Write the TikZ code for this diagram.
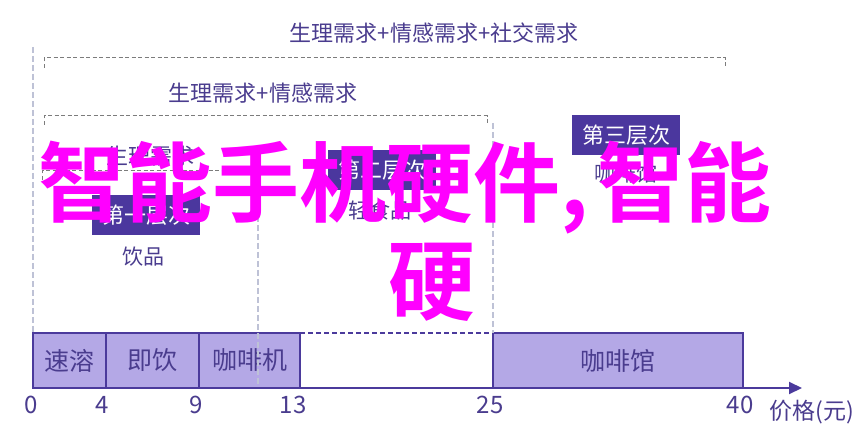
\documentclass[tikz,border=0pt]{standalone}
\usepackage{fontspec}
\setmainfont{Noto Sans CJK SC}[BoldFont={Noto Sans CJK SC Bold}]
\usepackage{xcolor}
\usetikzlibrary{positioning,arrows.meta}

\definecolor{inkpurple}{HTML}{4A3C8E}
\definecolor{barfill}{HTML}{B4A8E6}
\definecolor{baredge}{HTML}{4B3A9C}
\definecolor{levelfill}{HTML}{4B379E}
\definecolor{guidegray}{HTML}{BEC2D6}
\definecolor{bracegray}{HTML}{7C7C7C}
\definecolor{titlemagenta}{HTML}{FF00FF}

\tikzset{
  bracket/.style={draw=bracegray, line width=1pt, dash pattern=on 4pt off 2.5pt},
  guide/.style={draw=guidegray, line width=2.5pt, dash pattern=on 6pt off 3pt},
  pricebar/.style={draw=baredge, fill=barfill, line width=1.6pt, text=inkpurple, font=\fontsize{25}{27}\selectfont, minimum height=55pt, inner sep=0pt, outer sep=0pt, anchor=south west},
  levelbox/.style={fill=levelfill, text=white, font=\fontsize{22}{24}\selectfont, minimum width=108pt, minimum height=40pt, inner sep=0pt},
  needtext/.style={text=inkpurple, font=\fontsize{22}{24}\selectfont, inner sep=0pt},
  goodtext/.style={text=inkpurple, font=\fontsize{21}{23}\selectfont, inner sep=0pt},
  ticktext/.style={text=inkpurple, font=\fontsize{24}{26}\selectfont, inner sep=0pt},
  bigtitle/.style={text=titlemagenta, font=\fontsize{87}{90}\selectfont\bfseries, inner sep=0pt},
}

\begin{document}
\begin{tikzpicture}[x=1pt,y=-1pt]
    \useasboundingbox (0,0) rectangle (864,443);

    % needs above the chart
    \node[needtext] (needall) at (434,33) {生理需求+情感需求+社交需求};
    \draw[bracket] (44,68) -- (44,58) -- (725,58) -- (725,68);
    \node[needtext] (needtwo) at (263,93) {生理需求+情感需求};
    \draw[bracket] (44,125) -- (44,116) -- (487,116) -- (487,125);
    \node[needtext] (needone) at (150,156) {生理需求};
    \draw[bracket] (42,180) -- (42,171) -- (252,171) -- (252,180);

    % tiers
    \node[levelbox] (tierone) at (146,215) {第一层次};
    \node[goodtext] (drinks) at (143,257) {饮品};
    \node[levelbox] (tiertwo) at (382,170) {第二层次};
    \node[goodtext] (snacks) at (380,210) {轻食品};
    \node[levelbox] (tierthree) at (626,135.5) {第三层次};
    \node[goodtext] (coffeehouse) at (626,174) {咖啡馆};

    % price bars
    \node[pricebar, minimum width=73pt] (instant) at (33,388) {速溶};
    \node[pricebar, minimum width=93pt, right=0pt of instant] (ready) {即饮};
    \node[pricebar, minimum width=101pt, right=0pt of ready] (brewer) {咖啡机};
    \node[pricebar, minimum width=250pt] (cafe) at (493,388) {咖啡馆};
    \draw[baredge, line width=1.5pt, dash pattern=on 5pt off 3pt] (brewer.north east) -- (cafe.north west);

    % guides
    \draw[guide] (33,47) -- (instant.north west);
    \draw[guide] (258,180) -- (258,388);
    \draw[guide] (493,123) -- (cafe.north west);

    % axis
    \coordinate (origin) at (33,388);
    \coordinate (axisend) at (802,388);
    \draw[baredge, line width=2pt, -{Triangle[length=13pt,width=12pt]}] (origin) -- (axisend);
    \node[ticktext] (tzero) at (31,405) {0};
    \node[ticktext] (tfour) at (102,405) {4};
    \node[ticktext] (tnine) at (196,405) {9};
    \node[ticktext] (tthirteen) at (293,405) {13};
    \node[ticktext] (ttwentyfive) at (490,405) {25};
    \node[ticktext] (tforty) at (740,405) {40};
    \node[ticktext, font=\fontsize{23}{25}\selectfont] (price) at (812,412) {价格(元)};

    % overlay title
    \node[bigtitle, anchor=west] (titleone) at (38,188) {智能手机硬件,\kern9pt 智能};
    \node[bigtitle] (titletwo) at (432,282) {硬};
\end{tikzpicture}
\end{document}
